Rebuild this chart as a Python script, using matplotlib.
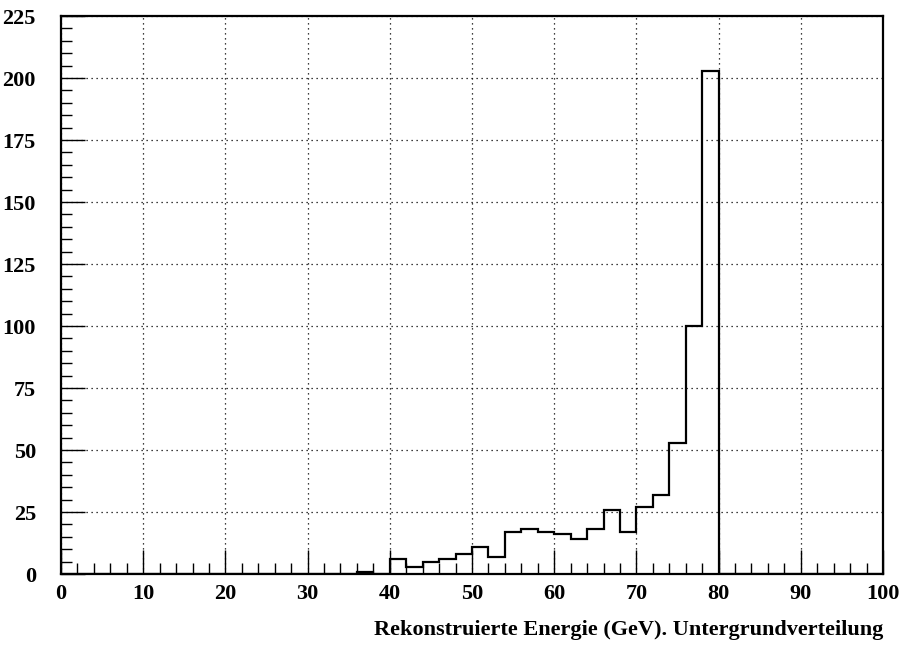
import numpy as np
import matplotlib.pyplot as plt
from matplotlib.ticker import MultipleLocator

# background distribution, 2 GeV bins from 0 to 100 GeV
bin_lo = 0
bin_hi = 100
bin_width = 2
counts = [0] * 18 + [1, 0,
                     6, 3, 5, 6, 8, 11, 7, 17, 18, 17,
                     16, 14, 18, 26, 17, 27, 32, 53, 100, 203] + [0] * 10
xticks = [0, 10, 20, 30, 40, 50, 60, 70, 80, 90, 100]
yticks = [0, 25, 50, 75, 100, 125, 150, 175, 200, 225]
xlabel = 'Rekonstruierte Energie (GeV). Untergrundverteilung'

plt.rcParams['font.family'] = ['Liberation Serif', 'DejaVu Serif']
plt.rcParams['font.weight'] = 'bold'

fig = plt.figure(figsize=(9.03, 6.46), dpi=100)
ax = fig.add_axes([61 / 903, 1 - 574 / 646, 822 / 903, 558 / 646])

edges = np.arange(bin_lo, bin_hi + bin_width, bin_width)
ax.stairs(counts, edges, color='black', linewidth=1.6, baseline=0)

ax.set_xlim(bin_lo, bin_hi)
ax.set_ylim(0, 225)
ax.set_xticks(xticks)
ax.set_yticks(yticks)
ax.xaxis.set_minor_locator(MultipleLocator(2))
ax.yaxis.set_minor_locator(MultipleLocator(5))
ax.tick_params(which='major', direction='in', length=17, width=1,
               labelsize=16, top=False, right=False)
ax.tick_params(which='minor', direction='in', length=8, width=1,
               top=False, right=False)
ax.tick_params(axis='y', pad=18)
ax.tick_params(axis='x', pad=7)
for lab in ax.get_xticklabels() + ax.get_yticklabels():
    lab.set_fontweight('bold')

ax.grid(True, which='major', linestyle=(0, (1, 3)), color='black',
        linewidth=0.9)
for s in ax.spines.values():
    s.set_linewidth(1.6)

ax.set_xlabel(xlabel, fontsize=16, fontweight='bold', loc='right',
              labelpad=12)

fig.savefig('out.png', dpi=100)
